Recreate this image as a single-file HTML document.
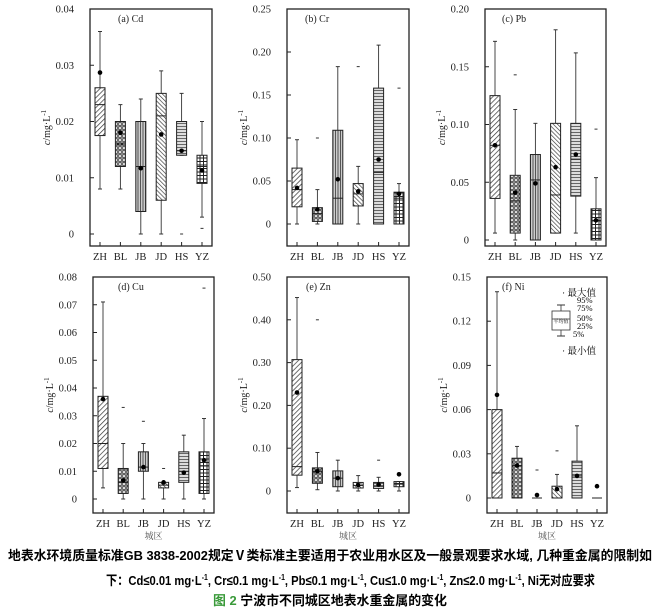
<!DOCTYPE html>
<html><head><meta charset="utf-8"><style>
html,body{margin:0;padding:0;background:#fff;}
svg{display:block;font-family:"Liberation Serif","Noto Serif CJK SC",serif;}
</style></head><body>
<svg id="s" width="659" height="614" viewBox="0 0 659 614" xmlns="http://www.w3.org/2000/svg">
<defs>
<pattern id="p1" width="3.5" height="3.5" patternUnits="userSpaceOnUse" patternTransform="rotate(45)"><rect width="3.5" height="3.5" fill="#fff"/><line x1="0" y1="0" x2="0" y2="3.5" stroke="#333" stroke-width="1.4"/></pattern>
<pattern id="p4" width="3" height="3" patternUnits="userSpaceOnUse" patternTransform="rotate(-45)"><rect width="3" height="3" fill="#fff"/><line x1="0" y1="0" x2="0" y2="3" stroke="#333" stroke-width="1.3"/></pattern>
<pattern id="p2" width="4" height="4" patternUnits="userSpaceOnUse"><rect width="4" height="4" fill="#fff"/><circle cx="2" cy="2" r="1.3" fill="none" stroke="#222" stroke-width="1"/></pattern>
<pattern id="p3" width="2.5" height="4" patternUnits="userSpaceOnUse"><rect width="2.5" height="4" fill="#ccc"/><line x1="0.5" y1="0" x2="0.5" y2="4" stroke="#555" stroke-width="1"/></pattern>
<pattern id="p5" width="4" height="3" patternUnits="userSpaceOnUse"><rect width="4" height="3" fill="#ddd"/><line x1="0" y1="0.5" x2="4" y2="0.5" stroke="#666" stroke-width="1"/></pattern>
<pattern id="p6" width="3.5" height="3.5" patternUnits="userSpaceOnUse"><rect width="3.5" height="3.5" fill="#fff"/><path d="M0 0.5H3.5M0.5 0V3.5" stroke="#222" stroke-width="1"/></pattern>
</defs>
<g id="g"></g>
<text x="8" y="560" font-family="Liberation Sans,'Noto Sans CJK SC',sans-serif" font-weight="bold" font-size="13" textLength="644" lengthAdjust="spacingAndGlyphs">地表水环境质量标准GB 3838-2002规定Ⅴ类标准主要适用于农业用水区及一般景观要求水域, 几种重金属的限制如</text>
<text x="106" y="585" font-family="Liberation Sans,'Noto Sans CJK SC',sans-serif" font-weight="bold" font-size="13" textLength="489" lengthAdjust="spacingAndGlyphs">下：Cd≤0.01 mg·L<tspan font-size="8" dy="-5">-1</tspan><tspan dy="5">, Cr≤0.1 mg·L</tspan><tspan font-size="8" dy="-5">-1</tspan><tspan dy="5">, Pb≤0.1 mg·L</tspan><tspan font-size="8" dy="-5">-1</tspan><tspan dy="5">, Cu≤1.0 mg·L</tspan><tspan font-size="8" dy="-5">-1</tspan><tspan dy="5">, Zn≤2.0 mg·L</tspan><tspan font-size="8" dy="-5">-1</tspan><tspan dy="5">, Ni无对应要求</tspan></text>
<text x="213" y="605" font-family="Liberation Sans,'Noto Sans CJK SC',sans-serif" font-weight="bold" font-size="13" textLength="234" lengthAdjust="spacingAndGlyphs"><tspan fill="#3a9a3a">图 2</tspan> 宁波市不同城区地表水重金属的变化</text>
</svg>
<script>
var g=document.getElementById('g'),h='';
var cats=['ZH','BL','JB','JD','HS','YZ'],pats=['p1','p2','p3','p4','p5','p6'];
var P=[
{x0:90,x1:212,yt:9,yb:246,z:234,tp:9,max:0.04,tk:[0,0.01,0.02,0.03,0.04],f:v=>v==0?'0':v.toFixed(2),t:'(a) Cd',tx:118,
d:[[0.008,0.0175,0.023,0.026,0.036,0.0287],[0.008,0.012,0.016,0.020,0.023,0.018],[0,0.004,0.012,0.020,0.024,0.0117],[0,0.006,0.021,0.025,0.029,0.0177],[0.014,0.014,0.0148,0.020,0.025,0.0148,null,0],[0.003,0.009,0.012,0.014,0.020,0.0113,null,0.001]]},
{x0:287,x1:409,yt:9,yb:246,z:224,tp:9,max:0.25,tk:[0,0.05,0.1,0.15,0.2,0.25],f:v=>v==0?'0':v.toFixed(2),t:'(b) Cr',tx:305,
d:[[0,0.02,0.04,0.065,0.098,0.042],[0,0.003,0.012,0.019,0.04,0.017,0.1],[0,0,0.03,0.109,0.183,0.052],[0,0.021,0.035,0.047,0.067,0.038,0.183],[0,0,0.06,0.158,0.208,0.075],[0,0,0.03,0.037,0.047,0.035,0.158]]},
{x0:485,x1:606,yt:9,yb:246,z:240,tp:9,max:0.20,tk:[0,0.05,0.1,0.15,0.2],f:v=>v==0?'0':v.toFixed(2),t:'(c) Pb',tx:502,
d:[[0.006,0.036,0.082,0.125,0.172,0.082],[0,0.006,0.034,0.056,0.113,0.041,0.143],[0,0,0.052,0.074,0.101,0.049],[0.006,0.006,0.039,0.101,0.182,0.063],[0.006,0.038,0.07,0.101,0.162,0.074],[0,0,0.017,0.027,0.054,0.017,0.096]]},
{x0:93,x1:214,yt:277,yb:513,z:499,tp:277,max:0.08,tk:[0,0.01,0.02,0.03,0.04,0.05,0.06,0.07,0.08],f:v=>v==0?'0':v.toFixed(2),t:'(d) Cu',tx:118,
d:[[0.004,0.011,0.02,0.037,0.071,0.036],[0,0.002,0.006,0.011,0.02,0.0067,0.033],[0,0.01,0.0115,0.017,0.02,0.0115,0.028],[0,0.004,0.005,0.006,0.006,0.006,0.011],[0,0.006,0.01,0.017,0.023,0.0095],[0,0.002,0.012,0.017,0.029,0.014,0.076]]},
{x0:287,x1:409,yt:277,yb:513,z:491,tp:277,max:0.5,tk:[0,0.1,0.2,0.3,0.4,0.5],f:v=>v==0?'0':v.toFixed(2),t:'(e) Zn',tx:306,
d:[[0.008,0.037,0.057,0.307,0.452,0.23],[0.003,0.018,0.045,0.054,0.09,0.046,0.4],[0,0.01,0.03,0.047,0.072,0.03],[0,0.007,0.013,0.02,0.036,0.014],[0,0.006,0.012,0.02,0.032,0.015,0.072],[0,0.01,0.016,0.022,0.022,0.039]]},
{x0:487,x1:607,yt:277,yb:513,z:498,tp:277,max:0.15,tk:[0,0.03,0.06,0.09,0.12,0.15],f:v=>v==0?'0':v.toFixed(2),t:'(f) Ni',tx:502,
d:[[0,0,0.017,0.06,0.14,0.07],[0,0,0.022,0.027,0.035,0.022],[0,0,0,0,0,0.002,0.019],[0,0,0,0.008,0.016,0.006,0.032],[0,0,0.015,0.025,0.049,0.015],[0,0,0,0,0,0.008]]}
];
P.forEach(function(p,pi){
 var sc=(p.z-p.tp)/p.max,Y=v=>p.z-v*sc;
 h+='<rect x="'+p.x0+'" y="'+p.yt+'" width="'+(p.x1-p.x0)+'" height="'+(p.yb-p.yt)+'" fill="none" stroke="#222" stroke-width="1.3"/>';
 p.tk.forEach(function(v){var y=Y(v);h+='<line x1="'+p.x0+'" x2="'+(p.x0+4)+'" y1="'+y+'" y2="'+y+'" stroke="#222"/>';
  h+='<text x="'+(p.x0-16)+'" y="'+(y+3.5)+'" font-size="10.5" text-anchor="end" fill="#222">'+p.f(v)+'</text>';});
 var yl=p.x0-40,ym=(p.yt+p.yb)/2;
 h+='<text transform="translate('+yl+','+ym+') rotate(-90)" font-size="10" text-anchor="middle" fill="#222"><tspan font-style="italic">c</tspan>/mg·L<tspan font-size="7" dy="-4">-1</tspan></text>';
 h+='<text x="'+p.tx+'" y="'+(p.yt+13)+'" font-size="10" fill="#222">'+p.t+'</text>';
 var sp=(p.x1-p.x0-20)/5;
 p.d.forEach(function(d,i){
  var cx=p.x0+10+i*sp,w=10;
  h+='<line x1="'+cx+'" x2="'+cx+'" y1="'+p.yb+'" y2="'+(p.yb-4)+'" stroke="#222"/>';
  h+='<text x="'+cx+'" y="'+(p.yb+14)+'" font-size="10.5" text-anchor="middle" fill="#222">'+cats[i]+'</text>';
  var lo=Y(d[0]),q1=Y(d[1]),md=Y(d[2]),q3=Y(d[3]),hi=Y(d[4]);
  h+='<line x1="'+cx+'" x2="'+cx+'" y1="'+lo+'" y2="'+hi+'" stroke="#333" stroke-width="0.9"/>';
  h+='<line x1="'+(cx-2)+'" x2="'+(cx+2)+'" y1="'+lo+'" y2="'+lo+'" stroke="#333"/><line x1="'+(cx-2)+'" x2="'+(cx+2)+'" y1="'+hi+'" y2="'+hi+'" stroke="#333"/>';
  if(q1-q3>0.5) h+='<rect x="'+(cx-w/2)+'" y="'+q3+'" width="'+w+'" height="'+(q1-q3)+'" fill="url(#'+pats[i]+')" stroke="#222" stroke-width="1"/>';
  else h+='<line x1="'+(cx-w/2)+'" x2="'+(cx+w/2)+'" y1="'+q1+'" y2="'+q1+'" stroke="#222"/>';
  h+='<line x1="'+(cx-w/2)+'" x2="'+(cx+w/2)+'" y1="'+md+'" y2="'+md+'" stroke="#222"/>';
  h+='<circle cx="'+cx+'" cy="'+Y(d[5])+'" r="2.3" fill="#000"/>';
  if(d[6]!=null)h+='<line x1="'+(cx-1.5)+'" x2="'+(cx+1.5)+'" y1="'+Y(d[6])+'" y2="'+Y(d[6])+'" stroke="#333"/>';
  if(d[7]!=null)h+='<line x1="'+(cx-1.5)+'" x2="'+(cx+1.5)+'" y1="'+Y(d[7])+'" y2="'+Y(d[7])+'" stroke="#333"/>';
 });
 if(pi>=3)h+='<text x="'+((p.x0+p.x1)/2)+'" y="'+(p.yb+26)+'" font-size="9" text-anchor="middle" fill="#555">城区</text>';
});
h+='<line x1="561" x2="561" y1="305" y2="336" stroke="#333" stroke-width="0.8"/><line x1="557" x2="565" y1="305" y2="305" stroke="#333"/><line x1="557" x2="565" y1="336" y2="336" stroke="#333"/>';
h+='<rect x="552" y="311" width="18" height="19" fill="#fff" stroke="#333" stroke-width="0.8"/><line x1="552" x2="570" y1="319" y2="319" stroke="#333" stroke-width="0.8"/>';
h+='<text x="561" y="323" font-size="5" text-anchor="middle">平均值</text>';
h+='<text x="562" y="296" font-size="9.5">· 最大值</text><text x="562" y="354" font-size="9.5">· 最小值</text>';
[['95%',303],['75%',311],['50%',321],['25%',329],['5%',337]].forEach(function(a){h+='<text x="'+(a[0]=='5%'?573:577)+'" y="'+a[1]+'" font-size="8.5">'+a[0]+'</text>';});
g.innerHTML=h;
</script>
</body></html>
